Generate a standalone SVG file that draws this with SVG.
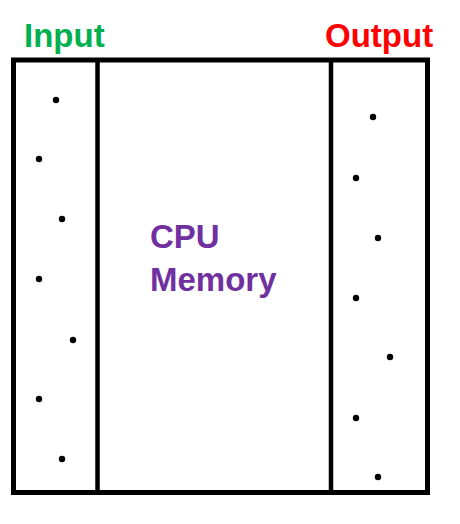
<svg xmlns="http://www.w3.org/2000/svg" width="460" height="524" viewBox="0 0 460 524">
<style>
.frame{fill:none;stroke:#000;stroke-width:5}
.div{stroke:#000;stroke-width:4.5}
.dot{fill:#000}
.lbl{font-family:"Liberation Sans",Arial,sans-serif;font-weight:bold;font-size:33px}
</style>
<rect width="460" height="524" fill="#fff"/>
<g id="frame">
<rect class="frame" x="13.5" y="60" width="414" height="432.5"/>
</g>
<g id="connectors">
<line class="div" x1="97.5" y1="60" x2="97.5" y2="492.5"/>
<line class="div" x1="331" y1="60" x2="331" y2="492.5"/>
</g>
<g id="input">
<text class="lbl" x="24" y="47" fill="#00B050">Input</text>
<circle class="dot" cx="56" cy="100" r="3.2"/>
<circle class="dot" cx="39" cy="159" r="3.2"/>
<circle class="dot" cx="62" cy="219" r="3.2"/>
<circle class="dot" cx="39" cy="279" r="3.2"/>
<circle class="dot" cx="73" cy="340" r="3.2"/>
<circle class="dot" cx="39" cy="399" r="3.2"/>
<circle class="dot" cx="62" cy="459" r="3.2"/>
</g>
<g id="cpu">
<text class="lbl" x="150" y="248" fill="#7030A0" font-size="32">CPU</text>
<text class="lbl" x="150" y="291" fill="#7030A0" font-size="32">Memory</text>
</g>
<g id="output">
<text class="lbl" x="325" y="47" fill="#FF0000">Output</text>
<circle class="dot" cx="373" cy="117" r="3.2"/>
<circle class="dot" cx="356" cy="178" r="3.2"/>
<circle class="dot" cx="378" cy="238" r="3.2"/>
<circle class="dot" cx="356" cy="298" r="3.2"/>
<circle class="dot" cx="390" cy="357" r="3.2"/>
<circle class="dot" cx="356" cy="418" r="3.2"/>
<circle class="dot" cx="378" cy="477" r="3.2"/>
</g>
</svg>
